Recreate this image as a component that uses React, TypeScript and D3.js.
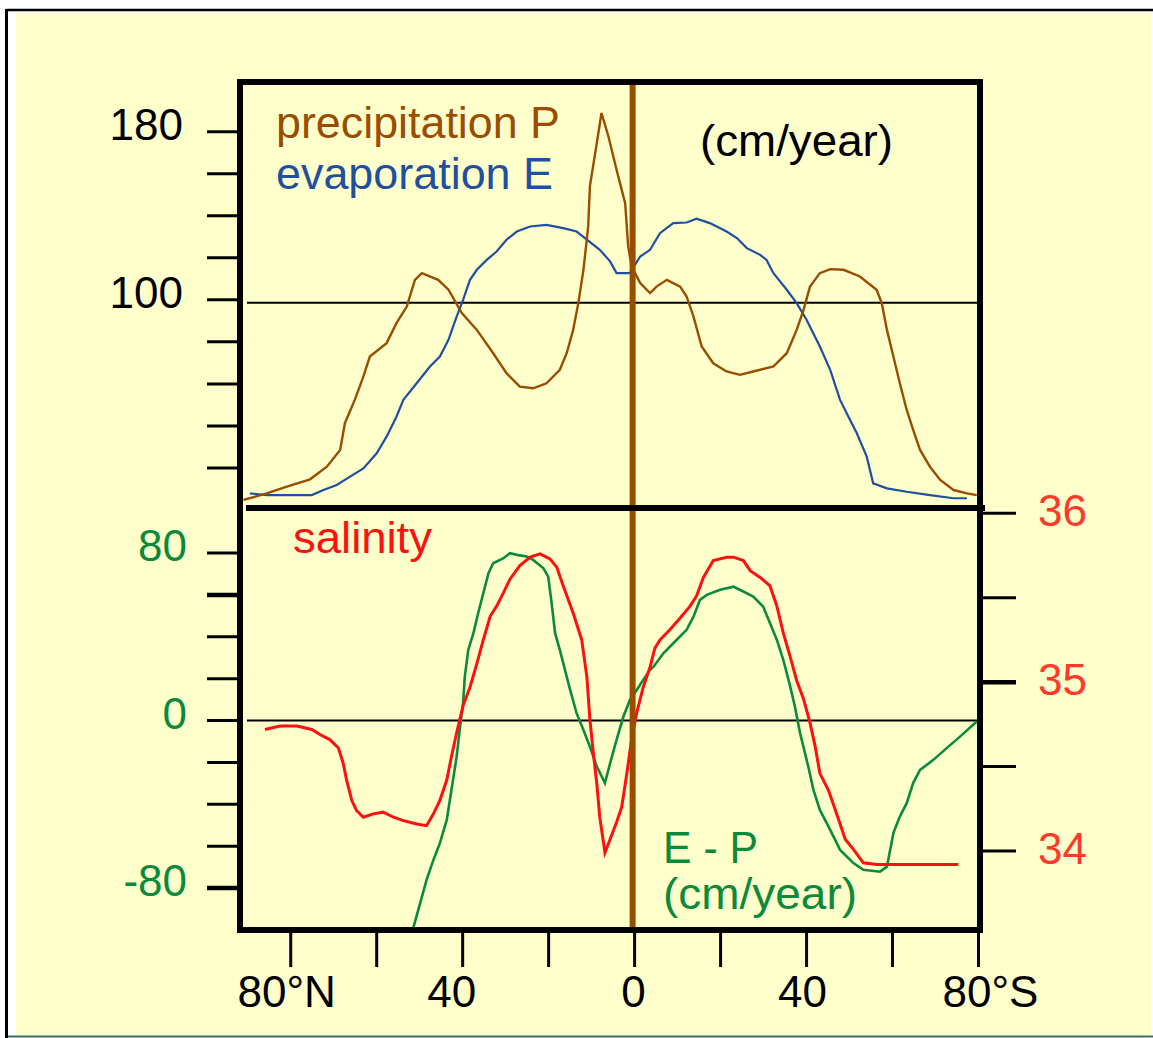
import React from "react";
import * as d3 from "d3";

// latitude in degrees, northern latitudes negative (axis runs 80°N → 80°S)
const precipitation: [number, number][] = [
  [-91.0, 4.8], [-85.6, 7.9], [-80.9, 11.1], [-75.5, 14.6], [-71.6, 20.6], [-68.5, 28.6], [-67.4, 41.3],
  [-65.1, 52.4], [-63.1, 63.5], [-61.6, 73], [-57.7, 79.4], [-55.4, 88.9], [-53.0, 96.8], [-51.1, 109.5],
  [-49.5, 112.7], [-45.7, 109.5], [-43.3, 104.8], [-40.2, 93.7], [-36.7, 85.7], [-32.9, 74.6], [-29.8, 65.1],
  [-26.7, 58.7], [-23.6, 57.9], [-20.5, 60.3], [-17.4, 66.7], [-15.8, 74.6], [-14.3, 85.7], [-13.1, 98.4],
  [-11.9, 114.3], [-10.8, 134.9], [-10.4, 154], [-8.8, 174.6], [-7.7, 188.9], [-6.1, 177.8], [-4.2, 161.9],
  [-2.2, 146], [-1.5, 125.4], [-0.7, 115.9], [1.3, 108], [3.6, 103.2], [5.1, 106.3], [7.5, 109.5],
  [10.6, 106.3], [12.1, 101.6], [13.7, 92], [15.6, 77.8], [18.3, 69.8], [21.4, 65.9], [24.5, 64.3],
  [27.6, 65.9], [32.3, 68.3], [35.4, 74.6], [37.7, 85.7], [39.3, 95.2], [40.8, 106.3], [43.1, 112.7],
  [45.5, 114.6], [48.6, 114.3], [52.4, 111.1], [56.3, 104.8], [57.5, 98.4], [58.7, 85.7], [60.2, 73],
  [61.7, 60.3], [63.3, 47.6], [64.8, 38.1], [66.4, 28.6], [68.7, 20.6], [71.1, 14.3], [74.2, 9.5],
  [77.3, 7.9], [79.6, 7.1],
];

const evaporation: [number, number][] = [
  [-89.5, 7.9], [-85.6, 7.1], [-75.1, 7.1], [-72.4, 9.5], [-69.3, 11.9], [-66.2, 15.9], [-63.1, 19.8],
  [-60, 27], [-57.7, 34.9], [-55.4, 44.4], [-53.8, 52.4], [-50.7, 60.3], [-47.6, 68.3], [-45.3, 73],
  [-43.3, 81], [-41.4, 92], [-39.9, 100], [-38.3, 109.5], [-36.7, 114.3], [-34.4, 119], [-32.1, 123],
  [-29.8, 128.6], [-27.4, 132.5], [-24.3, 134.9], [-20.5, 135.7], [-16.6, 134.1], [-13.5, 132.5],
  [-11.1, 128.6], [-8.1, 123.8], [-5.7, 118.3], [-4.2, 112.7], [-1.1, 112.7], [1.3, 120.6], [3.6, 123.8],
  [5.9, 131.7], [9.0, 136.5], [12.1, 136.8], [14.4, 138.6], [17.5, 136.5], [21.4, 132.5], [23.8, 129.4],
  [26.1, 124.6], [29.2, 121.4], [30.7, 119], [32.3, 112.7], [35.4, 104.8], [37.7, 98.4], [40.0, 90.5],
  [43.1, 77.8], [45.5, 66.7], [47.8, 52.4], [50.1, 42.9], [51.7, 36.5], [54.0, 25.4], [55.5, 12.7],
  [58.7, 10.3], [63.3, 8.7], [68.7, 7.1], [74.2, 5.6], [77.3, 5.6],
];

const salinity: [number, number][] = [
  [-86.0, 34.72], [-82.5, 34.74], [-78.6, 34.74], [-75.1, 34.72], [-73.2, 34.69], [-70.9, 34.66],
  [-68.9, 34.61], [-67.8, 34.52], [-67.0, 34.42], [-65.8, 34.3], [-64.7, 34.24], [-63.1, 34.2],
  [-60.8, 34.22], [-58.5, 34.23], [-56.1, 34.2], [-53.8, 34.18], [-50.7, 34.16], [-48.4, 34.15],
  [-46.8, 34.22], [-45.3, 34.3], [-43.7, 34.42], [-42.6, 34.56], [-41.4, 34.7], [-39.9, 34.86],
  [-38.3, 34.97], [-36.7, 35.11], [-35.2, 35.25], [-33.6, 35.39], [-32.1, 35.45], [-30.5, 35.53],
  [-29.0, 35.61], [-26.7, 35.69], [-24.3, 35.74], [-22.0, 35.76], [-19.7, 35.73], [-18.1, 35.68],
  [-16.6, 35.57], [-14.3, 35.41], [-12.3, 35.25], [-11.1, 35.03], [-10.4, 34.78], [-9.6, 34.58],
  [-8.8, 34.4], [-8.1, 34.2], [-6.9, 33.99], [-5.7, 34.07], [-4.2, 34.17], [-3.0, 34.26], [-1.8, 34.46],
  [-0.7, 34.66], [0.5, 34.82], [2.0, 34.97], [3.6, 35.09], [4.7, 35.2], [5.9, 35.25], [8.2, 35.31],
  [10.6, 35.38], [12.9, 35.45], [14.4, 35.51], [16.0, 35.62], [18.3, 35.72], [21.4, 35.74], [23.0, 35.74],
  [25.3, 35.72], [26.9, 35.66], [29.2, 35.62], [31.5, 35.57], [33.1, 35.45], [34.6, 35.29], [36.2, 35.15],
  [37.7, 35.01], [39.3, 34.9], [40.8, 34.76], [42.0, 34.62], [43.1, 34.46], [45.1, 34.36], [47.0, 34.22],
  [49.0, 34.07], [50.9, 34.01], [53.2, 33.93], [56.3, 33.92], [75.3, 33.92],
];

const evapMinusPrecip: [number, number][] = [
  [-51.5, -99.2], [-49.9, -87.3], [-48.4, -76.1], [-46.8, -66.6], [-45.3, -58.6], [-43.7, -47.5],
  [-42.6, -33.1], [-41.4, -17.2], [-40.6, -2.9], [-39.9, 8.3], [-39.5, 21.0], [-38.7, 33.7], [-37.5, 41.7],
  [-36.4, 51.2], [-35.2, 60.8], [-34.0, 70.3], [-32.9, 75.1], [-30.5, 77.5], [-29.0, 79.9], [-27.4, 79.1],
  [-25.1, 78.3], [-23.6, 76.7], [-21.2, 72.7], [-20.1, 68.7], [-19.3, 56.0], [-18.5, 41.7], [-17.4, 33.7],
  [-16.2, 24.2], [-15.0, 14.6], [-13.5, 3.5], [-11.9, -4.5], [-10.4, -12.5], [-8.8, -22.0], [-6.9, -29.9],
  [-5.7, -20.4], [-4.2, -9.3], [-2.6, 1.9], [-1.1, 9.8], [0.5, 14.6], [2.0, 19.4], [3.6, 24.2], [4.4, 25.7],
  [6.7, 32.1], [9.0, 36.9], [12.1, 43.3], [13.7, 49.6], [15.2, 57.6], [16.8, 60.0], [19.9, 62.4],
  [23.0, 63.9], [25.3, 61.6], [27.6, 59.2], [29.9, 54.4], [31.5, 46.5], [33.1, 38.5], [34.6, 28.9],
  [36.2, 16.2], [37.3, 6.6], [38.5, -6.1], [40.4, -22.0], [41.6, -33.1], [43.1, -42.7], [45.5, -52.2],
  [47.8, -61.8], [50.9, -68.1], [53.2, -71.3], [57.1, -72.2], [58.7, -69.8], [60.2, -53.8], [61.7, -45.9],
  [63.3, -39.5], [64.8, -29.9], [66.4, -23.6], [69.5, -18.8], [72.6, -13.2], [75.7, -7.7], [79.6, -0.5],
];

const latTicks = [-80, -60, -40, -20, 0, 20, 40, 60, 80];
const latLabels: [number, string][] = [[-80, "80°N"], [-40, "40"], [0, "0"], [40, "40"], [80, "80°S"]];
const pTicks = [20, 40, 60, 80, 100, 120, 140, 160, 180];
const pLabels = [100, 180];
const epTicks = [-80, -60, -40, -20, 0, 20, 40, 60, 80];
const epLabels: [number, string][] = [[80, "80"], [0, "0"], [-80, "-80"]];
const salTicks = [34, 34.5, 35, 35.5, 36];
const salLabels = [34, 35, 36];

const FONT = "'Liberation Sans', Arial, sans-serif";
const BROWN = "#9a4d00";
const BLUE = "#1f4f9f";
const GREEN = "#0b8a3c";
const RED = "#ff1010";
const SALRED = "#ff3a2a";
const YELLOW = "#ffffcc";

// small horizontal nudges of the latitude labels, as placed in the original
const latLabelShift: Record<number, number> = { [-80]: -4, [-40]: -11, [0]: -1, [40]: -4, [80]: 12 };

export default function App() {
  const L = 240, R = 980, T = 82, B = 930, MID = 508;
  const x = d3.scaleLinear().domain([-91.8, 80.35]).range([L, R]);
  const yP = d3.scaleLinear().domain([0, 180]).range([510, 131.7]);
  const yEP = d3.scaleLinear().domain([-80, 80]).range([888, 553]);
  const yS = d3.scaleLinear().domain([34, 36]).range([851, 513.3]);

  const lineP = d3.line<[number, number]>().x((d) => x(d[0])).y((d) => yP(d[1]));
  const lineEP = d3.line<[number, number]>().x((d) => x(d[0])).y((d) => yEP(d[1]));
  const lineS = d3.line<[number, number]>().x((d) => x(d[0])).y((d) => yS(d[1]));

  return (
    <svg width={1153} height={1038} style={{ position: "absolute", left: 0, top: 0, background: "#fff" }} fontFamily={FONT}>
      <rect x={0} y={0} width={1153} height={1038} fill="#fff" />
      <rect x={16} y={13} width={1135} height={1022} fill={YELLOW} />
      <line x1={6.5} y1={10} x2={1153} y2={10} stroke="#000" strokeWidth={2.5} />
      <line x1={6.5} y1={9} x2={6.5} y2={1038} stroke="#000" strokeWidth={3} />
      <line x1={8} y1={1036.5} x2={1153} y2={1036.5} stroke="#3d6b66" strokeWidth={2} />

      {/* reference lines */}
      <line x1={247} x2={977} y1={yP(100) + 3} y2={yP(100) + 3} stroke="#000" strokeWidth={2} />
      <line x1={247} x2={977} y1={yEP(0)} y2={yEP(0)} stroke="#000" strokeWidth={2} />

      {/* curves */}
      <path d={lineP(evaporation) || ""} fill="none" stroke={BLUE} strokeWidth={2.2} />
      <path d={lineP(precipitation) || ""} fill="none" stroke={BROWN} strokeWidth={2.4} />
      <path d={lineEP(evapMinusPrecip) || ""} fill="none" stroke={GREEN} strokeWidth={2.6} />
      <path d={lineS(salinity) || ""} fill="none" stroke={RED} strokeWidth={3} />

      {/* equator */}
      <line x1={x(0) - 2} x2={x(0) - 2} y1={T} y2={B} stroke={BROWN} strokeWidth={6} />

      {/* frame */}
      <rect x={L} y={T} width={R - L} height={B - T} fill="none" stroke="#000" strokeWidth={6} />
      <line x1={246} x2={985} y1={MID} y2={MID} stroke="#000" strokeWidth={6} />

      {/* top-left axis */}
      {pTicks.map((t) => (
        <line key={"pt" + t} x1={207} x2={L} y1={yP(t)} y2={yP(t)} stroke="#000" strokeWidth={3} />
      ))}
      {pLabels.map((t) => (
        <text key={"pl" + t} x={183} y={yP(t) + 8} textAnchor="end" fontSize={44} fill="#000">{t}</text>
      ))}

      {/* bottom-left axis */}
      {epTicks.map((t) => (
        <line key={"et" + t} x1={207} x2={L} y1={yEP(t)} y2={yEP(t)} stroke="#000" strokeWidth={t === 60 || t === -80 ? 4.5 : 3} />
      ))}
      {epLabels.map(([t, s]) => (
        <text key={"el" + t} x={187} y={yEP(t) + 8} textAnchor="end" fontSize={44} fill={GREEN}>{s}</text>
      ))}

      {/* right axis (salinity) */}
      {salTicks.map((t) => (
        <line key={"st" + t} x1={R} x2={1016} y1={yS(t)} y2={yS(t)} stroke="#000" strokeWidth={t === 35 ? 4.5 : 3} />
      ))}
      {salLabels.map((t) => (
        <text key={"sl" + t} x={1038} y={yS(t) + 13} fontSize={44} fill={SALRED}>{t}</text>
      ))}

      {/* bottom axis */}
      {latTicks.map((t) => (
        <line key={"lt" + t} x1={x(t)} x2={x(t)} y1={B} y2={967} stroke="#000" strokeWidth={3} />
      ))}
      {latLabels.map(([t, s]) => (
        <text key={"ll" + t} x={x(t) + (latLabelShift[t] || 0)} y={1007} textAnchor="middle" fontSize={44} fill="#000">{s}</text>
      ))}

      {/* annotations */}
      <text x={276} y={138} fontSize={44} fill={BROWN} textLength={284} lengthAdjust="spacingAndGlyphs">precipitation P</text>
      <text x={276} y={189} fontSize={44} fill={BLUE} textLength={277} lengthAdjust="spacingAndGlyphs">evaporation E</text>
      <text x={700} y={156} fontSize={44} fill="#000" textLength={193} lengthAdjust="spacingAndGlyphs">(cm/year)</text>
      <text x={293} y={553} fontSize={44} fill={RED} textLength={139} lengthAdjust="spacingAndGlyphs">salinity</text>
      <text x={663} y={863} fontSize={44} fill={GREEN} textLength={95} lengthAdjust="spacingAndGlyphs">E - P</text>
      <text x={663} y={909} fontSize={44} fill={GREEN} textLength={194} lengthAdjust="spacingAndGlyphs">(cm/year)</text>
    </svg>
  );
}
